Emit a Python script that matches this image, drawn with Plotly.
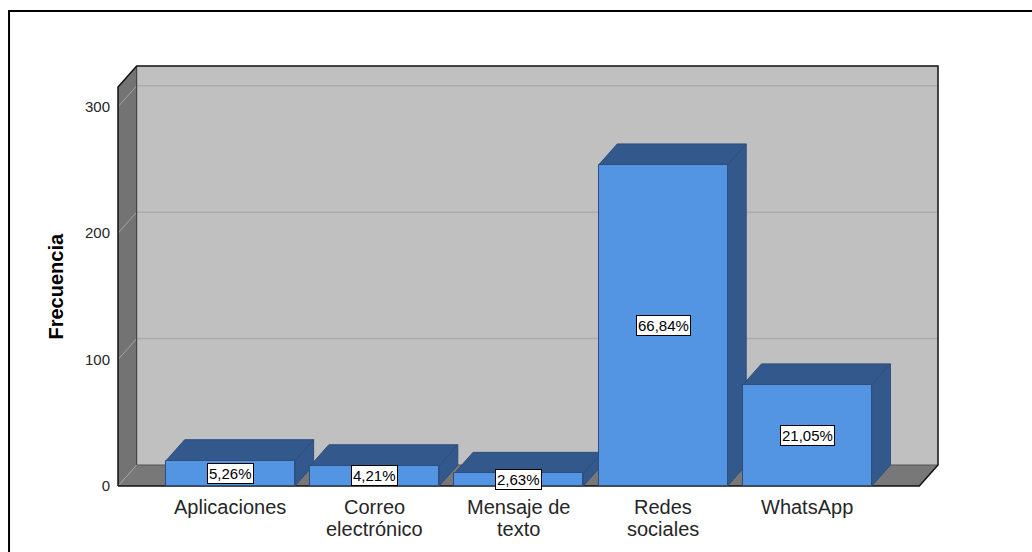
import plotly.graph_objects as go

# ---- data -------------------------------------------------------------
categorias = ["Aplicaciones", "Correo\nelectrónico", "Mensaje de\ntexto",
              "Redes\nsociales", "WhatsApp"]
frecuencias = [20, 16, 10, 254, 80]
y_ticks = [0, 100, 200, 300]

total = sum(frecuencias)
porcentajes = [f"{v / total * 100:.2f}".replace(".", ",") + "%" for v in frecuencias]

# ---- colours ----------------------------------------------------------
FRONT = "#5395E2"
SHADE = "#33598C"
EDGE = "#2B4E7C"
WALL = "#C0C0C0"
SIDE_WALL = "#737373"
FLOOR = "#787878"
GRID = "#ABABAB"
SIDE_GRID = "#A3A3A3"
TEXT = "#262626"
FONT = "Liberation Sans, Arial, sans-serif"

# ---- geometry of the pseudo-3D box (canvas pixels) ---------------------
W, H = 1032, 552
PX_PER_CAT = 144.25        # horizontal distance between bar centres
PX_PER_UNIT = 1.264        # vertical pixels per count
DEPTH_X_PX, DEPTH_Y_PX = 18.7, 21.0
FRONT_LEFT_PX = 118.0
FIRST_CENTER_PX = 230.5
ZERO_PX = 486.0
BACK_TOP_PX = 66.0
BACK_RIGHT_PX = 938.3
PAD = 3
BAR_W = 0.894
CAT_FONT = 20
FIRST_LINE = 20.5          # offset of the first label line below the floor edge
LINE_PITCH = 22.5          # spacing of the two-line category labels

dx = DEPTH_X_PX / PX_PER_CAT
dy = DEPTH_Y_PX / PX_PER_UNIT
x_left = -(FIRST_CENTER_PX - FRONT_LEFT_PX) / PX_PER_CAT
x_right = x_left + (BACK_RIGHT_PX - FRONT_LEFT_PX) / PX_PER_CAT
y_top = (ZERO_PX - BACK_TOP_PX) / PX_PER_UNIT
wall_top = y_top - dy

m_l = FRONT_LEFT_PX - PAD
m_r = W - BACK_RIGHT_PX - PAD
m_t = BACK_TOP_PX - PAD
m_b = H - ZERO_PX - PAD


def paper_x(px):
    return (px - m_l) / (W - m_l - m_r)


def paper_y(py):
    return (H - m_b - py) / (H - m_t - m_b)


def path(points, close=True):
    d = "M " + " L ".join(f"{x},{y}" for x, y in points)
    return d + " Z" if close else d


shapes = []
# back wall, side wall and floor
shapes.append(dict(type="rect", x0=x_left + dx, x1=x_right, y0=dy, y1=y_top,
                   fillcolor=WALL, line=dict(width=0), layer="below"))
shapes.append(dict(type="path",
                   path=path([(x_left, 0), (x_left + dx, dy), (x_left + dx, y_top), (x_left, wall_top)]),
                   fillcolor=SIDE_WALL, line=dict(width=0), layer="below"))
shapes.append(dict(type="path",
                   path=path([(x_left, 0), (x_right - dx, 0), (x_right, dy), (x_left + dx, dy)]),
                   fillcolor=FLOOR, line=dict(width=0), layer="below"))
# grid lines on the back wall and the side wall
for v in y_ticks[1:]:
    shapes.append(dict(type="line", x0=x_left + dx, x1=x_right, y0=v + dy, y1=v + dy,
                       line=dict(color=GRID, width=1.5), layer="below"))
for v in y_ticks:
    shapes.append(dict(type="line", x0=x_left, x1=x_left + dx, y0=v, y1=v + dy,
                       line=dict(color=SIDE_GRID, width=1), layer="below"))
# box edges
shapes.append(dict(type="line", x0=x_left + dx, x1=x_left + dx, y0=dy, y1=y_top,
                   line=dict(color="#333333", width=1), layer="below"))
shapes.append(dict(type="line", x0=x_left + dx, x1=x_right, y0=dy, y1=dy,
                   line=dict(color="#555555", width=1), layer="below"))
shapes.append(dict(type="path",
                   path=path([(x_left, 0), (x_left, wall_top), (x_left + dx, y_top), (x_right, y_top),
                              (x_right, dy), (x_right - dx, 0), (x_left, 0)], close=False),
                   line=dict(color="#111111", width=1.5), layer="below"))

# top and side faces of each bar
for i, v in enumerate(frecuencias):
    xl, xr = i - BAR_W / 2, i + BAR_W / 2
    shapes.append(dict(type="path",
                       path=path([(xr, 0), (xr + dx, dy), (xr + dx, v + dy), (xr, v)]),
                       fillcolor=SHADE, line=dict(color=EDGE, width=1), layer="below"))
    shapes.append(dict(type="path",
                       path=path([(xl, v), (xr, v), (xr + dx, v + dy), (xl + dx, v + dy)]),
                       fillcolor=SHADE, line=dict(color=EDGE, width=1), layer="below"))

# outer frame
shapes.append(dict(type="rect", xref="paper", yref="paper",
                   x0=paper_x(9), x1=paper_x(1040), y0=paper_y(560), y1=paper_y(11),
                   line=dict(color="#000000", width=2), fillcolor="rgba(0,0,0,0)"))

annotations = []
# percentage labels in the middle of each front face
for i, (v, p) in enumerate(zip(frecuencias, porcentajes)):
    annotations.append(dict(x=i, y=v / 2, text=p, showarrow=False,
                            xanchor="center", yanchor="middle",
                            font=dict(family=FONT, size=15, color="#000000"),
                            bgcolor="#FFFFFF", bordercolor="#000000",
                            borderwidth=1, borderpad=1))
# category labels, one annotation per line
for i, cat in enumerate(categorias):
    for k, line in enumerate(cat.split("\n")):
        annotations.append(dict(x=i, y=0, text=line, showarrow=False,
                                xanchor="center", yanchor="middle",
                                yshift=-(FIRST_LINE + LINE_PITCH * k),
                                font=dict(family=FONT, size=CAT_FONT, color=TEXT)))
# axis title
annotations.append(dict(xref="paper", yref="paper", x=paper_x(55), y=paper_y(286.5),
                        xanchor="center", yanchor="middle",
                        text="<b>Frecuencia</b>", textangle=-90, showarrow=False,
                        font=dict(family=FONT, size=20, color="#000000")))

fig = go.Figure(go.Bar(
    x=list(range(len(frecuencias))), y=frecuencias, width=BAR_W,
    marker=dict(color=FRONT, line=dict(color=EDGE, width=1)),
    hoverinfo="skip", showlegend=False,
))

fig.update_layout(
    width=W, height=H,
    margin=dict(l=m_l, r=m_r, t=m_t, b=m_b, pad=0),
    paper_bgcolor="#FFFFFF", plot_bgcolor="#FFFFFF",
    shapes=shapes, annotations=annotations,
    xaxis=dict(range=[x_left - PAD / PX_PER_CAT, x_right + PAD / PX_PER_CAT],
               showticklabels=False, showgrid=False, zeroline=False,
               showline=False, ticks="", fixedrange=True),
    yaxis=dict(range=[-PAD / PX_PER_UNIT, y_top + PAD / PX_PER_UNIT],
               tickvals=y_ticks, ticks="", ticklabelstandoff=4,
               tickfont=dict(family=FONT, size=15, color=TEXT),
               showgrid=False, zeroline=False, showline=False, fixedrange=True),
    bargap=0,
)

fig.write_html("out.html", config={"displayModeBar": False})
